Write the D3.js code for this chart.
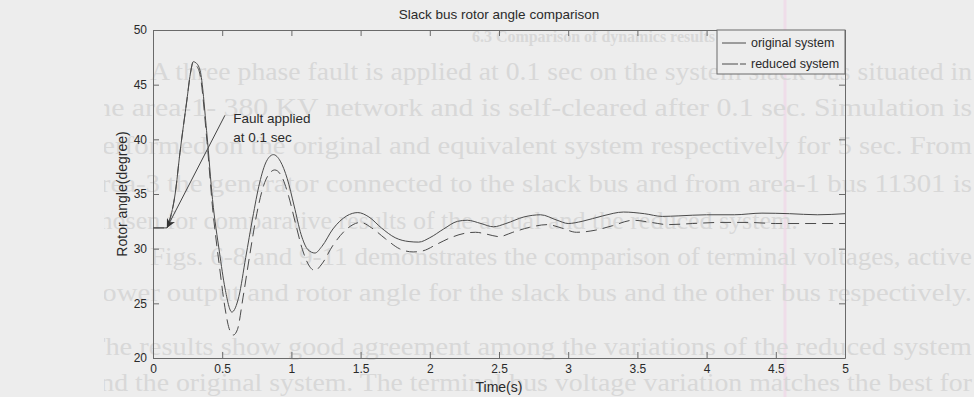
<!DOCTYPE html>
<html>
<head>
<meta charset="utf-8">
<script src="https://cdn.jsdelivr.net/npm/d3@7"></script>
<style>
    body { margin: 0; background: #ededed; }
    text { font-family: "Liberation Sans", Arial, sans-serif; fill: #2a2a2a; }
    .ghost { font-family: "Liberation Serif", "DejaVu Serif", serif; fill: #d8d8d8; }
</style>
</head>
<body>
<div id="chart"></div>
<script>
// slack bus rotor angle comparison

// original system (solid line)
var timeOriginal = [0, 0.1, 0.12, 0.16, 0.195, 0.245, 0.27, 0.29, 0.31, 0.34, 0.39, 0.43, 0.48, 0.52, 0.57,
    0.62, 0.67, 0.72, 0.77, 0.82, 0.87, 0.92, 0.97, 1.02, 1.07, 1.12, 1.17, 1.22, 1.3, 1.4, 1.48,
    1.56, 1.65, 1.75, 1.85, 1.92, 2.0, 2.1, 2.2, 2.27, 2.37, 2.46, 2.55, 2.68, 2.8, 2.92, 3.0,
    3.1, 3.25, 3.4, 3.55, 3.68, 3.8, 4.0, 4.2, 4.4, 4.6, 4.8, 5.0];
var angleOriginal = [31.9, 31.9, 32.6, 35.0, 38.8, 43.6, 46.0, 47.1, 47.0, 46.3, 40.4, 34.5, 29.7, 26.4, 24.2,
    25.6, 29.2, 32.8, 36.0, 38.0, 38.6, 38.0, 36.4, 33.9, 31.3, 29.9, 29.6, 30.2, 31.8, 33.0, 33.3,
    32.9, 31.9, 31.0, 30.65, 30.6, 31.0, 31.8, 32.5, 32.6, 32.3, 32.0, 32.3, 32.9, 33.1, 32.6, 32.3,
    32.5, 33.0, 33.35, 33.2, 32.95, 33.0, 33.1, 33.1, 33.25, 33.2, 33.1, 33.2];

// reduced system (dashed line)
var timeReduced = [0, 0.1, 0.12, 0.16, 0.195, 0.245, 0.27, 0.29, 0.31, 0.34, 0.39, 0.43, 0.48, 0.52, 0.55,
    0.58, 0.61, 0.65, 0.7, 0.75, 0.8, 0.85, 0.88, 0.93, 0.98, 1.03, 1.08, 1.13, 1.17, 1.22, 1.3,
    1.4, 1.5, 1.58, 1.68, 1.78, 1.88, 1.95, 2.05, 2.15, 2.25, 2.33, 2.42, 2.5, 2.6, 2.72, 2.85,
    2.95, 3.06, 3.2, 3.32, 3.47, 3.6, 3.72, 3.9, 4.1, 4.3, 4.5, 4.7, 5.0];
var angleReduced = [31.9, 31.9, 32.6, 35.0, 38.8, 43.6, 46.0, 47.0, 46.8, 45.9, 39.8, 33.8, 28.4, 24.6, 22.7,
    22.1, 22.6, 25.5, 29.5, 33.2, 35.8, 37.0, 37.2, 36.6, 34.8, 32.3, 29.9, 28.4, 28.0, 28.6, 30.3,
    31.8, 32.4, 31.9, 30.9, 30.0, 29.7, 29.8, 30.4, 31.0, 31.4, 31.5, 31.3, 31.1, 31.5, 31.95, 32.2,
    31.9, 31.5, 31.7, 32.1, 32.6, 32.4, 32.2, 32.3, 32.4, 32.4, 32.3, 32.3, 32.3];

var xTicks = [0, 0.5, 1, 1.5, 2, 2.5, 3, 3.5, 4, 4.5, 5];
var yTicks = [20, 25, 30, 35, 40, 45, 50];
var legendLabels = ["original system", "reduced system"];

// fault annotation: arrow from the label down to the fault instant
var faultLabel = ["Fault applied", "at 0.1 sec"];
var faultArrowFrom = [0.52, 42.2];
var faultArrowTo = [0.1, 31.9];

// faint text of the scanned page behind the figure
var pageHeading = "6.3 Comparison of dynamics results";
var pageLines = [
    "A three phase fault is applied at 0.1 sec on the system slack bus situated in",
    "the area-1- 380 KV network and is self-cleared after 0.1 sec. Simulation is",
    "performed on the original and equivalent system respectively for 5 sec. From",
    "area-3 the generator connected to the slack bus and from area-1 bus 11301 is",
    "chosen for comparative results of the actual and the reduced system.",
    "Figs. 6-8 and 9-11 demonstrates the comparison of terminal voltages, active",
    "power output and rotor angle for the slack bus and the other bus respectively.",
    "The results show good agreement among the variations of the reduced system",
    "and the original system. The terminal bus voltage variation matches the best for"
];
var pageLineY = [80, 116, 154, 192, 229, 265, 301, 355, 391];
var pageLineX = [150, 88, 88, 88, 88, 150, 88, 88, 88];

// svg dimensions
var svgWidth = 974;
var svgHeight = 397;

var margin = { top: 30, right: 129, bottom: 39, left: 153 };
var chartWidth = svgWidth - margin.left - margin.right;
var chartHeight = svgHeight - margin.top - margin.bottom;

var svg = d3.select("#chart").append("svg")
    .attr("width", svgWidth)
    .attr("height", svgHeight);

svg.append("rect")
    .attr("width", svgWidth)
    .attr("height", svgHeight)
    .attr("fill", "#ededed");

// page background text
var defs = svg.append("defs");
defs.append("clipPath").attr("id", "pageClip")
    .append("rect")
    .attr("x", 104).attr("y", 0)
    .attr("width", svgWidth - 104).attr("height", svgHeight);

var page = svg.append("g").attr("clip-path", "url(#pageClip)");

page.append("line")
    .attr("x1", 785).attr("x2", 785)
    .attr("y1", 0).attr("y2", svgHeight)
    .attr("stroke", "#efdde9")
    .attr("stroke-width", 3);

page.append("text")
    .attr("class", "ghost")
    .attr("x", 472)
    .attr("y", 42)
    .attr("font-size", 16)
    .attr("font-weight", "bold")
    .attr("textLength", 243)
    .attr("lengthAdjust", "spacingAndGlyphs")
    .text(pageHeading);

pageLines.forEach(function (line, i) {
    var t = page.append("text")
        .attr("class", "ghost")
        .attr("x", pageLineX[i])
        .attr("y", pageLineY[i])
        .attr("font-size", 26)
        .text(line);
    // justified lines run to the right edge, the short paragraph end does not
    if (i !== 4) {
        t.attr("textLength", 972 - pageLineX[i]).attr("lengthAdjust", "spacingAndGlyphs");
    }
});

var chartGroup = svg.append("g")
    .attr("transform", `translate(${margin.left}, ${margin.top})`);

// scales
var xScale = d3.scaleLinear().domain([0, 5]).range([0, chartWidth]);
var yScale = d3.scaleLinear().domain([20, 50]).range([chartHeight, 0]);

// axes with inward ticks on all four sides
var xAxis = d3.axisBottom(xScale).tickValues(xTicks).tickSizeInner(-6).tickSizeOuter(0).tickPadding(6)
    .tickFormat(d3.format(""));
var yAxis = d3.axisLeft(yScale).tickValues(yTicks).tickSizeInner(-6).tickSizeOuter(0).tickPadding(6);
var xAxisTop = d3.axisTop(xScale).tickValues(xTicks).tickSizeInner(-6).tickSizeOuter(0).tickFormat("");
var yAxisRight = d3.axisRight(yScale).tickValues(yTicks).tickSizeInner(-6).tickSizeOuter(0).tickFormat("");

function styleAxis(g) {
    g.selectAll("path, line").attr("stroke", "#6a6a6a");
    g.selectAll("text").attr("font-size", 12).attr("fill", "#2a2a2a")
        .attr("font-family", "'Liberation Sans', Arial, sans-serif");
}

chartGroup.append("g").attr("transform", `translate(0, ${chartHeight})`).call(xAxis).call(styleAxis);
chartGroup.append("g").call(yAxis).call(styleAxis);
chartGroup.append("g").call(xAxisTop).call(styleAxis);
chartGroup.append("g").attr("transform", `translate(${chartWidth}, 0)`).call(yAxisRight).call(styleAxis);

// line generator
var lineGen = d3.line()
    .x(d => xScale(d[0]))
    .y(d => yScale(d[1]))
    .curve(d3.curveMonotoneX);

var originalData = timeOriginal.map((t, i) => [t, angleOriginal[i]]);
var reducedData = timeReduced.map((t, i) => [t, angleReduced[i]]);

chartGroup.append("path")
    .datum(reducedData)
    .attr("d", lineGen)
    .attr("fill", "none")
    .attr("stroke", "#4a4a4a")
    .attr("stroke-width", 1)
    .attr("stroke-dasharray", "11,6");

chartGroup.append("path")
    .datum(originalData)
    .attr("d", lineGen)
    .attr("fill", "none")
    .attr("stroke", "#4a4a4a")
    .attr("stroke-width", 1);

// arrow marker
defs.append("marker")
    .attr("id", "arrowHead")
    .attr("viewBox", "0 0 10 10")
    .attr("refX", 10).attr("refY", 5)
    .attr("markerWidth", 9).attr("markerHeight", 9)
    .attr("markerUnits", "userSpaceOnUse")
    .attr("orient", "auto")
    .append("path")
    .attr("d", "M0,0 L10,5 L0,10 L3,5 Z")
    .attr("fill", "#333");

chartGroup.append("line")
    .attr("x1", xScale(faultArrowFrom[0]))
    .attr("y1", yScale(faultArrowFrom[1]))
    .attr("x2", xScale(faultArrowTo[0]))
    .attr("y2", yScale(faultArrowTo[1]))
    .attr("stroke", "#444")
    .attr("stroke-width", 1)
    .attr("marker-end", "url(#arrowHead)");

faultLabel.forEach(function (label, i) {
    chartGroup.append("text")
        .attr("x", xScale(0.58))
        .attr("y", yScale(41.5) + i * 19)
        .attr("font-size", 13.5)
        .text(label);
});

// legend
var legend = svg.append("g").attr("transform", "translate(717, 30)");
legend.append("rect")
    .attr("width", 128).attr("height", 44)
    .attr("fill", "#ededed")
    .attr("stroke", "#6a6a6a");

legendLabels.forEach(function (label, i) {
    legend.append("line")
        .attr("x1", 5).attr("x2", 29)
        .attr("y1", 13 + i * 21).attr("y2", 13 + i * 21)
        .attr("stroke", "#4a4a4a")
        .attr("stroke-dasharray", i === 1 ? "16,2" : null);
    legend.append("text")
        .attr("x", 34)
        .attr("y", 13 + i * 21)
        .attr("dy", "0.35em")
        .attr("font-size", 12.5)
        .text(label);
});

// title and axis labels
svg.append("text")
    .attr("x", margin.left + chartWidth / 2)
    .attr("y", 19)
    .attr("text-anchor", "middle")
    .attr("font-size", 13.5)
    .text("Slack bus rotor angle comparison");

svg.append("text")
    .attr("x", margin.left + chartWidth / 2)
    .attr("y", 392)
    .attr("text-anchor", "middle")
    .attr("font-size", 14)
    .text("Time(s)");

svg.append("text")
    .attr("transform", "rotate(-90)")
    .attr("x", -194)
    .attr("y", 127)
    .attr("text-anchor", "middle")
    .attr("font-size", 14)
    .text("Rotor angle(degree)");
</script>
</body>
</html>
